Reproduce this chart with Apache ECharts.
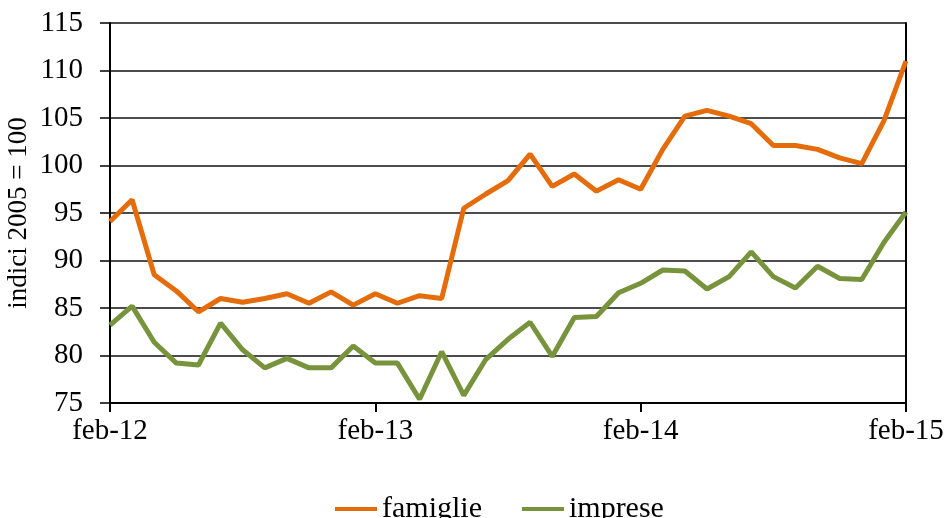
<!DOCTYPE html>
<html>
<head>
<meta charset="utf-8">
<script src="https://cdn.jsdelivr.net/npm/echarts@6/dist/echarts.min.js"></script>
<style>
  html, body { margin: 0; padding: 0; background: #fff; }
  #chart { width: 947px; height: 518px; }
</style>
</head>
<body>
<div id="chart"></div>
<script>
  const mesi = [
    'feb-12','mar-12','apr-12','mag-12','giu-12','lug-12','ago-12','set-12','ott-12','nov-12','dic-12','gen-13',
    'feb-13','mar-13','apr-13','mag-13','giu-13','lug-13','ago-13','set-13','ott-13','nov-13','dic-13','gen-14',
    'feb-14','mar-14','apr-14','mag-14','giu-14','lug-14','ago-14','set-14','ott-14','nov-14','dic-14','gen-15',
    'feb-15'
  ];
  const famiglie = [94.1, 96.4, 88.5, 86.8, 84.6, 86.0, 85.6, 86.0, 86.5, 85.5, 86.7, 85.3,
    86.5, 85.5, 86.3, 86.0, 95.5, 97.0, 98.4, 101.2, 97.8, 99.1, 97.3, 98.5,
    97.5, 101.7, 105.2, 105.8, 105.2, 104.4, 102.1, 102.1, 101.7, 100.8, 100.2, 104.7,
    111.0];
  const imprese = [83.2, 85.2, 81.4, 79.2, 79.0, 83.4, 80.6, 78.7, 79.7, 78.7, 78.7, 81.0,
    79.2, 79.2, 75.4, 80.4, 75.8, 79.6, 81.7, 83.5, 79.9, 84.0, 84.1, 86.6,
    87.6, 89.0, 88.9, 87.0, 88.3, 90.9, 88.3, 87.1, 89.4, 88.1, 88.0, 91.9,
    95.1];

  const font = '"Liberation Serif", "Times New Roman", serif';
  let myChart = echarts.init(document.getElementById('chart'));

  myChart.setOption({
    animation: false,
    textStyle: { fontFamily: font, color: '#000' },
    grid: { left: 110, right: 41, top: 23, bottom: 115, containLabel: false, outerBoundsMode: 'none' },
    legend: {
      left: 330,
      top: 489,
      icon: 'rect',
      itemWidth: 42,
      itemHeight: 4,
      itemGap: 40,
      textStyle: { fontFamily: font, fontSize: 30, color: '#000' },
      data: ['famiglie', 'imprese']
    },
    xAxis: {
      type: 'category',
      data: mesi,
      boundaryGap: false,
      axisLine: { lineStyle: { color: '#000', width: 2 } },
      axisTick: { interval: 11, length: 9, lineStyle: { color: '#000', width: 2 } },
      axisLabel: { interval: 11, margin: 14, fontFamily: font, fontSize: 29, color: '#000' },
      splitLine: { show: false }
    },
    yAxis: [
      {
        type: 'value',
        min: 75,
        max: 115,
        interval: 5,
        name: 'indici 2005 = 100',
        nameLocation: 'middle',
        nameGap: 78,
        nameRotate: 90,
        nameMoveOverlap: false,
        nameTextStyle: { fontFamily: font, fontSize: 27, color: '#000' },
        axisLine: { show: true, lineStyle: { color: '#000', width: 2 } },
        axisTick: { show: true, length: 10, lineStyle: { color: '#000', width: 1.5 } },
        axisLabel: { margin: 27, fontFamily: font, fontSize: 29, color: '#000' },
        splitLine: { lineStyle: { color: '#111', width: 1.5 } }
      },
      {
        type: 'value',
        min: 75,
        max: 115,
        interval: 5,
        position: 'right',
        axisLine: { show: true, lineStyle: { color: '#000', width: 2 } },
        axisTick: { show: false },
        axisLabel: { show: false },
        splitLine: { show: false }
      }
    ],
    series: [
      {
        type: 'line',
        name: 'famiglie',
        data: famiglie,
        symbol: 'none',
        color: '#E46C0A',
        lineStyle: { width: 5, color: '#E46C0A' }
      },
      {
        type: 'line',
        name: 'imprese',
        data: imprese,
        symbol: 'none',
        color: '#77933C',
        lineStyle: { width: 5, color: '#77933C' }
      }
    ]
  });
</script>
</body>
</html>
